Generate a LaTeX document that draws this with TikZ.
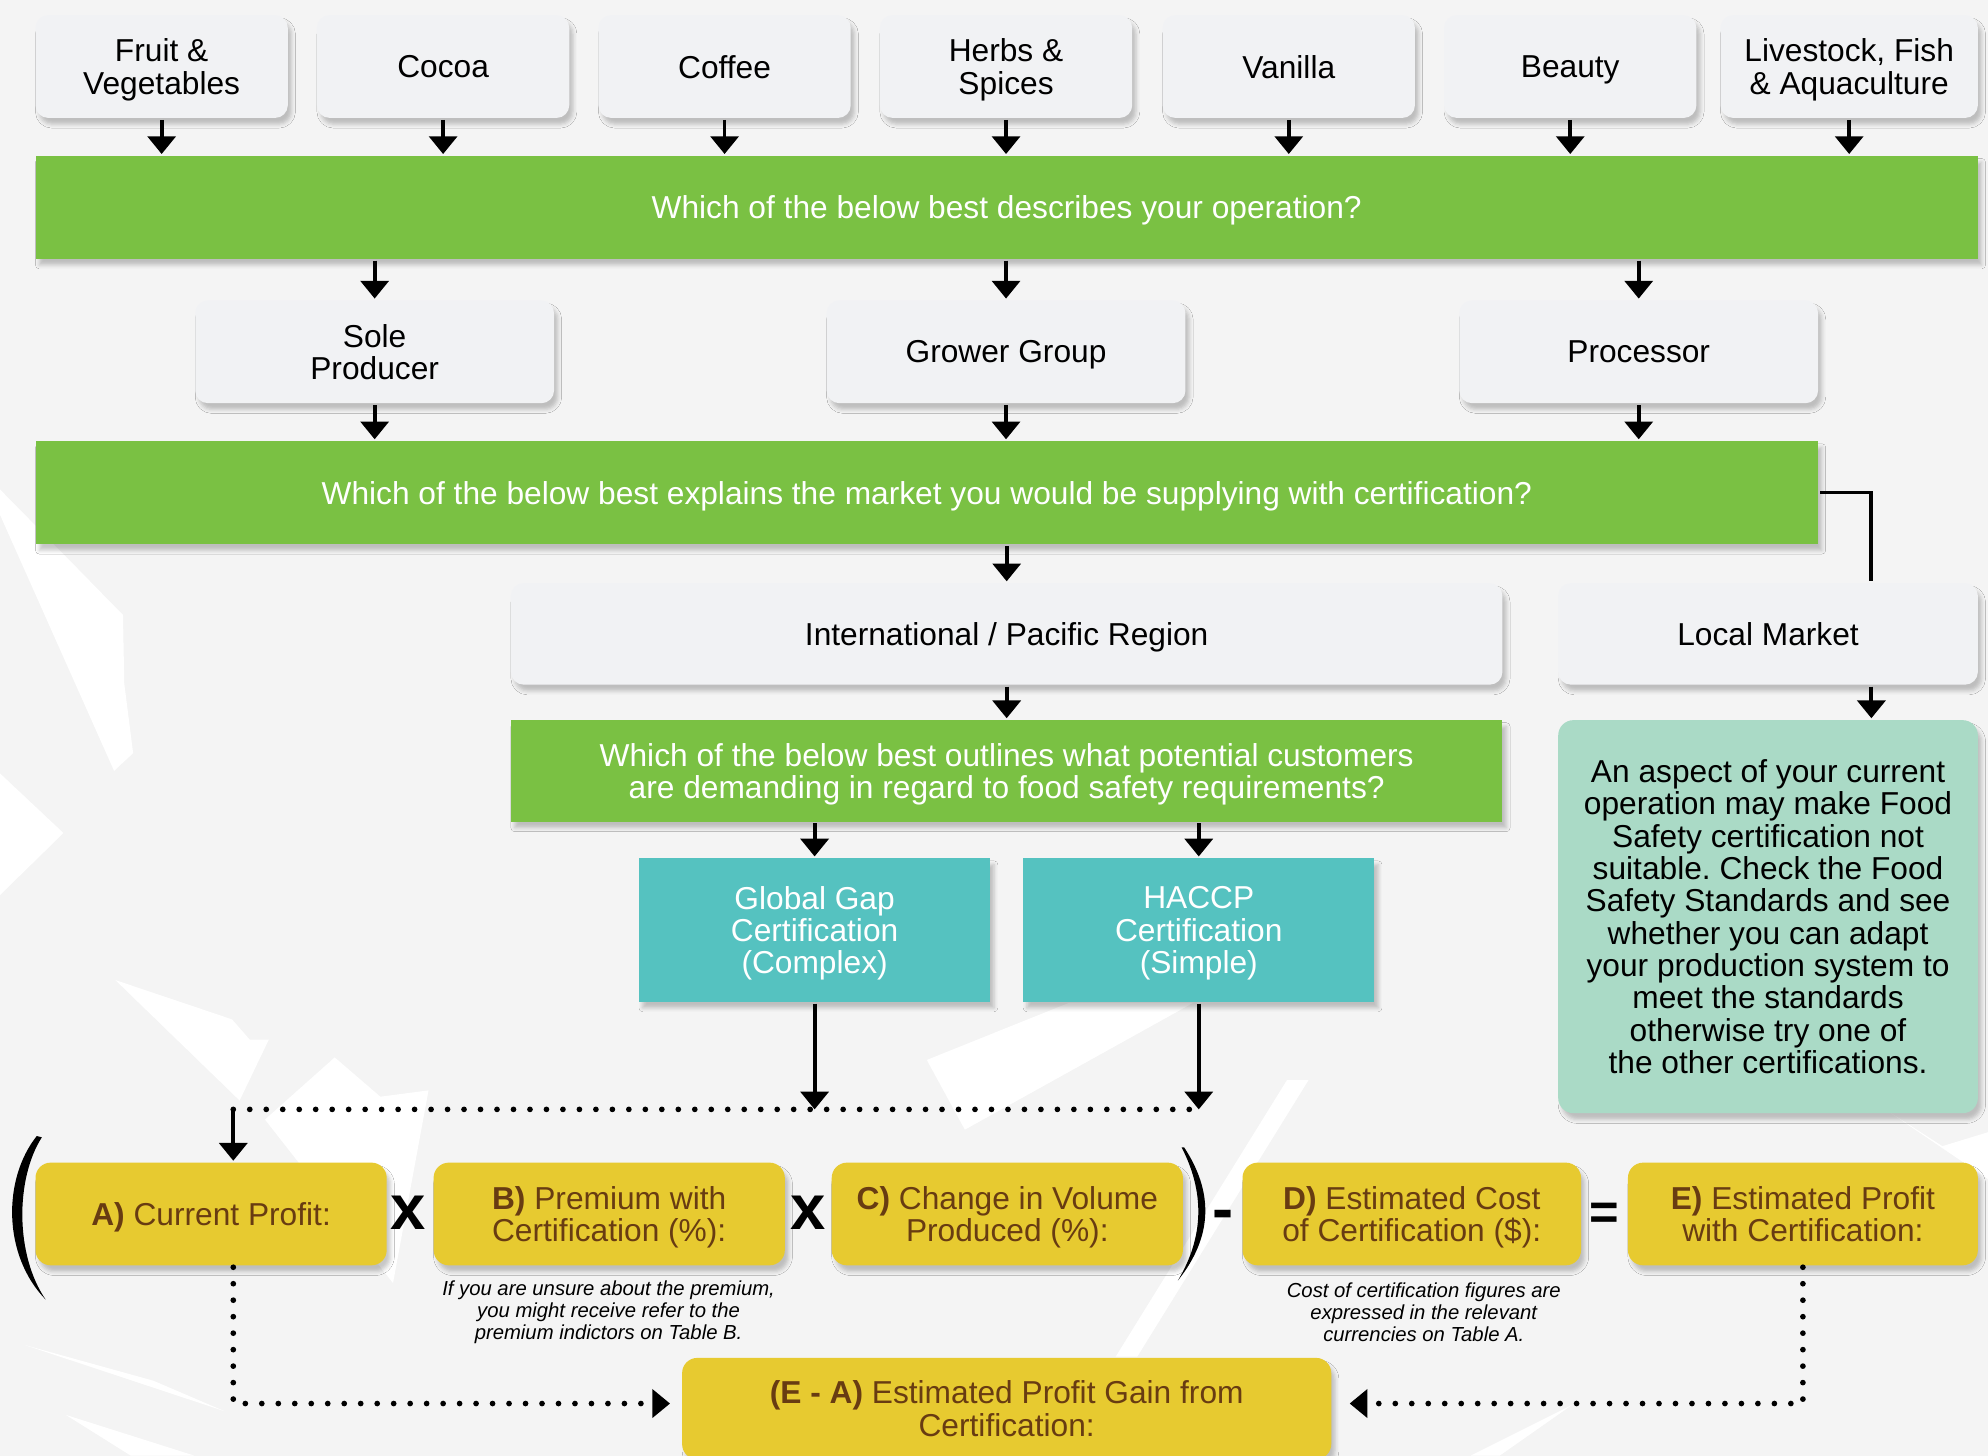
\documentclass[tikz,border=0pt]{standalone}
\usepackage{fontspec}
\setmainfont{Liberation Sans}
\usetikzlibrary{arrows.meta,shadows.blur}
\frenchspacing
\definecolor{bggray}{RGB}{244,244,244}
\definecolor{boxgray}{RGB}{241,242,244}
\definecolor{askgreen}{RGB}{122,193,67}
\definecolor{certteal}{RGB}{85,194,192}
\definecolor{notegreen}{RGB}{170,218,198}
\definecolor{sumyellow}{RGB}{231,202,48}
\definecolor{sumbrown}{RGB}{104,60,18}
\begin{document}
\begin{tikzpicture}[x=1pt, y=-1pt, line width=3pt, >={Triangle[width=22pt,length=14pt]},
        font=\fontsize{25}{25.5}\selectfont,
        lift/.style={blur shadow={shadow xshift=3pt, shadow yshift=-5pt, shadow blur radius=3pt, shadow opacity=22}},
        pick/.style={lift, fill=boxgray, rounded corners=10pt, minimum height=81pt, align=center, inner sep=0pt, text depth=0pt},
        sector/.style={pick, minimum width=199pt, font=\fontsize{25}{26}\selectfont},
        ask/.style={lift, fill=askgreen, text=white, minimum height=81pt, align=center, inner sep=0pt, text depth=0pt},
        cert/.style={lift, fill=certteal, text=white, minimum width=277pt, minimum height=113pt, align=center, inner sep=0pt, text depth=0pt},
        sum/.style={lift, fill=sumyellow, text=sumbrown, rounded corners=12pt, minimum width=277pt, minimum height=81pt, align=center, inner sep=0pt, text depth=0pt},
        sign/.style={font=\fontsize{50}{50}\selectfont\bfseries, inner sep=0pt, anchor=base},
        hint/.style={font=\fontsize{16}{17}\selectfont\itshape, align=center, inner sep=0pt},
        dots/.style={line width=4.5pt, dash pattern=on 0pt off 13pt, line cap=round},
        shard/.style={fill=white}]
    \fill[bggray] (0,0) rectangle (1568,1148);
    \useasboundingbox (0,0) rectangle (1568,1148);
    \fill[shard] (0,386) -- (97,485) -- (98,539) -- (105,594) -- (90,608) -- (0,406) -- cycle;
    \fill[shard] (0,610) -- (50,657) -- (0,706) -- cycle;
    \fill[shard] (91,773) -- (183,804) -- (197,820) -- (212,820) -- (189,868) -- cycle;
    \fill[shard] (209,883) -- (264,834) -- (300,865) -- (338,860) -- (310,1012) -- cycle;
    \fill[shard] (20,1061) -- (177,1113) -- (121,1089) -- cycle;
    \fill[shard] (52,1116) -- (153,1148) -- (103,1148) -- cycle;
    \fill[shard] (731,836) -- (843,791) -- (941,791) -- (761,891) -- cycle;
    \fill[shard] (1015,852) -- (1032,852) -- (897,1070) -- (880,1070) -- cycle;
    \fill[shard] (1490,877) -- (1532,904) -- (1568,893) -- (1568,930) -- cycle;
    \fill[shard] (1240,1108) -- (1183,1148) -- (1160,1148) -- cycle;

    \node[sector] (fruit) at (127.5,52.5) {Fruit \&\\Vegetables};
    \node[sector] (cocoa) at (349.5,52.5) {Cocoa};
    \node[sector] (coffee) at (571.5,52.5) {Coffee};
    \node[sector] (herbs) at (793.5,52.5) {Herbs \&\\Spices};
    \node[sector] (vanilla) at (1016.5,52.5) {Vanilla};
    \node[sector] (beauty) at (1238.5,52.5) {Beauty};
    \node[sector, minimum width=203pt] (livestock) at (1458.5,52.5) {Livestock, Fish\\\& Aquaculture};
    \node[ask, minimum width=1532pt] (q1) at (794,163.5) {Which of the below best describes your operation?};
    \node[pick, minimum width=283pt] (sole) at (295.5,277.5) {Sole\\Producer};
    \node[pick, minimum width=283pt] (grower) at (793.5,277.5) {Grower Group};
    \node[pick, minimum width=283pt] (proc) at (1292.5,277.5) {Processor};
    \node[ask, minimum width=1406pt] (q2) at (731,388.5) {Which of the below best explains the market you would be supplying with certification?};
    \node[pick, minimum width=782pt, minimum height=80pt] (intl) at (794,500) {International / Pacific Region};
    \node[pick, minimum width=331pt, minimum height=80pt] (local) at (1394.5,500) {Local Market};
    \node[ask, minimum width=782pt, minimum height=80pt] (q3) at (794,608) {Which of the below best outlines what potential customers\\are demanding in regard to food safety requirements?};
    \node[pick, fill=notegreen, rounded corners=12pt, minimum width=331pt, minimum height=310pt] (note) at (1394.5,723)
        {An aspect of your current\\operation may make Food\\Safety certification not\\suitable. Check the Food\\Safety Standards and see\\whether you can adapt\\your production system to\\meet the standards\\otherwise try one of\\the other certifications.};
    \node[cert] (gap) at (642.5,733.5) {Global Gap\\Certification\\(Complex)};
    \node[cert] (haccp) at (945.5,733.5) {HACCP\\Certification\\(Simple)};
    \node[sum] (A) at (166.5,957.5) {\textbf{A)} Current Profit:};
    \node[sum] (B) at (480.5,957.5) {\textbf{B)} Premium with\\Certification (\%):};
    \node[sum] (C) at (794.5,957.5) {\textbf{C)} Change in Volume\\Produced (\%):};
    \node[sum, minimum width=267pt] (D) at (1113.5,957.5) {\textbf{D)} Estimated Cost\\of Certification (\$):};
    \node[sum, minimum width=276pt] (E) at (1422,957.5) {\textbf{E)} Estimated Profit\\with Certification:};
    \node[sum, minimum width=512pt, minimum height=80pt] (gain) at (794,1111) {\textbf{(E - A)} Estimated Profit Gain from\\Certification:};
    \node[sign] (times1) at (322,970) {x};
    \node[sign] (times2) at (637,970) {x};
    \node[sign] (minus) at (965,970.5) {-};
    \node[sign, font=\fontsize{40}{40}\selectfont\bfseries] (equals) at (1265,969.5) {=};
    \node[hint] (hintB) at (480,1035) {If you are unsure about the premium,\\you might receive refer to the\\premium indictors on Table B.};
    \node[hint] (hintD) at (1123,1035) {Cost of certification figures are\\expressed in the relevant\\currencies on Table A.};
    \fill (29,896) .. controls (2,930) and (2,990) .. (36,1025) .. controls (12,990) and (12,930) .. (33,897) -- cycle;
    \fill (934,905) .. controls (957,940) and (957,975) .. (929,1010) .. controls (950,975) and (950,940) .. (932,905) -- cycle;

    \coordinate (lm) at (1476,500);
    \coordinate (jA) at (184,875);
    \coordinate (jL) at (184,1107);
    \coordinate (jR) at (1422,1107);
    \draw[->] (fruit) -- (fruit |- q1.north);
    \draw[->] (cocoa) -- (cocoa |- q1.north);
    \draw[->] (coffee) -- (coffee |- q1.north);
    \draw[->] (herbs) -- (herbs |- q1.north);
    \draw[->] (vanilla) -- (vanilla |- q1.north);
    \draw[->] (beauty) -- (beauty |- q1.north);
    \draw[->] (livestock) -- (livestock |- q1.north);
    \draw[->] (sole |- q1.south) -- (sole);
    \draw[->] (grower |- q1.south) -- (grower);
    \draw[->] (proc |- q1.south) -- (proc);
    \draw[->] (sole) -- (sole |- q2.north);
    \draw[->] (grower) -- (grower |- q2.north);
    \draw[->] (proc) -- (proc |- q2.north);
    \draw[->] (intl |- q2.south) -- (intl);
    \draw (q2.east) -| (local.north -| lm);
    \draw[->] (intl) -- (q3);
    \draw[->] (local.south -| lm) -- (note.north -| lm);
    \draw[->] (gap |- q3.south) -- (gap);
    \draw[->] (haccp |- q3.south) -- (haccp);
    \draw[->] (gap) -- (gap |- jA);
    \draw[->] (haccp) -- (haccp |- jA);
    \draw[dots] (jA) -- (haccp |- jA);
    \draw[->] (jA) -- (A.north -| jA);
    \draw[dots, ->] (A.south -| jL) -- (jL) -- ([xshift=-8pt]gain.west |- jL);
    \draw[dots, ->] (E.south -| jR) -- (jR) -- ([xshift=13pt]gain.east |- jR);
\end{tikzpicture}
\end{document}
